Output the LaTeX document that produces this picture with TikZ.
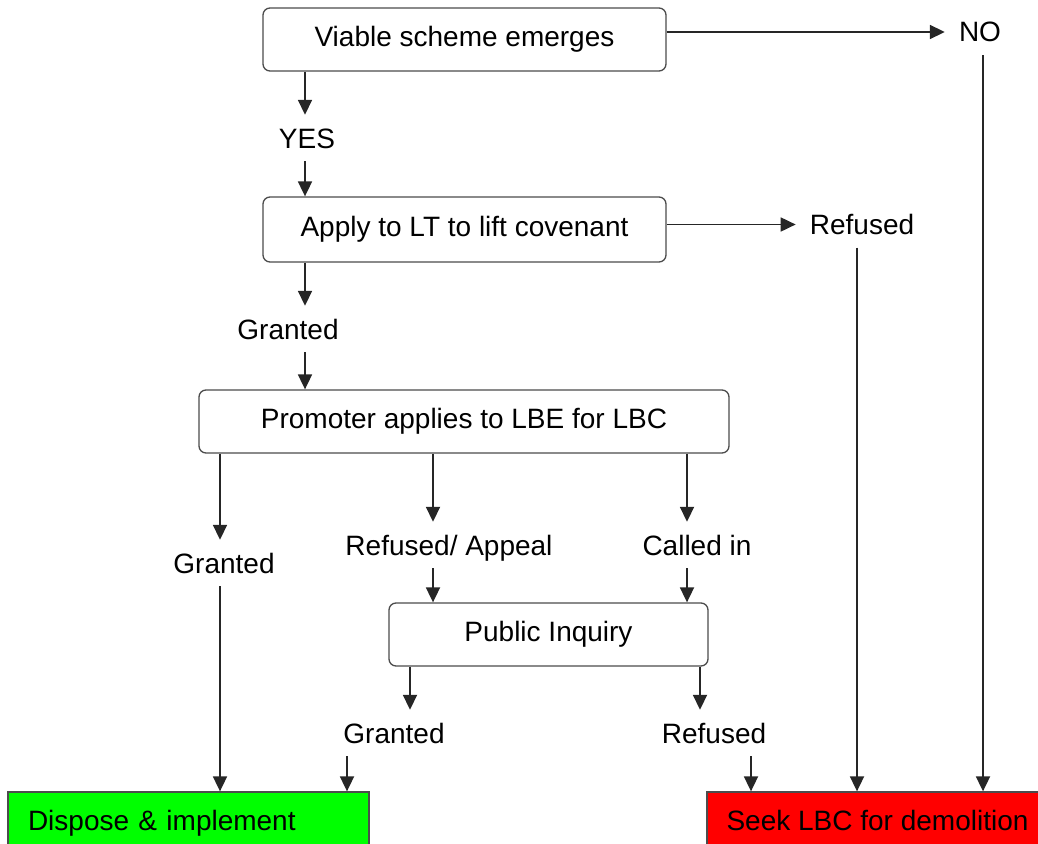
\documentclass[tikz,border=0pt]{standalone}
\usepackage{fontspec}
\setmainfont{Liberation Sans}
\usetikzlibrary{arrows.meta}
\definecolor{implgreen}{RGB}{0,255,0}
\definecolor{demred}{RGB}{255,0,0}
\tikzset{
  stage/.style   ={rectangle, rounded corners=7pt, draw=black!70, line width=1.3pt,
    minimum height=63pt, inner sep=0pt},
  decision/.style={inner xsep=14pt, inner ysep=13pt, text height=20pt, text depth=0pt},
  outcome/.style ={rectangle, draw=black!70, line width=1.3pt, minimum height=56pt,
    inner ysep=0pt, text height=20pt, text depth=0pt}}
\tikzset{
  to arr/.style={-{Triangle[length=15pt,width=14pt]}, line width=1.8pt, color=black!85},
}

\begin{document}
\begin{tikzpicture}[x=1pt, y=-1pt, font=\fontsize{28pt}{34pt}\selectfont]
\useasboundingbox (0,0) rectangle (1038,843);
\clip (0,0) rectangle (1038,843);
% stages
\node[stage, minimum width=403pt] (viable) at (464.5,39.5) {Viable scheme emerges};
\node[stage, minimum width=403pt, minimum height=65pt] (apply) at (464.5,229.5)
  {Apply to LT to lift covenant};
\node[stage, minimum width=530pt] (promoter) at (464,421.5) {Promoter applies to LBE for LBC};
\node[stage, minimum width=319pt] (inquiry) at (548.5,634.5) {Public Inquiry};
% outcomes
\node[outcome, fill=implgreen, text width=321pt, align=left, inner xsep=20pt]
  (dispose) at (188.5,820) {Dispose \& implement};
\node[outcome, fill=demred, minimum width=341pt] (seek) at (877.5,820) {Seek LBC for demolition};
% decisions
\node[decision] (no)       at (980,32)    {NO};
\node[decision] (yes)      at (307,138)   {YES};
\node[decision] (refused1) at (862,224.5) {Refused};
\node[decision] (granted1) at (288,329)   {Granted};
\node[decision] (granted2) at (224,563)   {Granted};
\node[decision] (appeal)   at (449,545)   {Refused/ Appeal};
\node[decision] (calledin) at (697,545)   {Called in};
\node[decision] (granted3) at (394,733)   {Granted};
\node[decision] (refused3) at (714,733)   {Refused};
% columns of the vertical connectors
\foreach \n/\x in {main/305, left/220, appeal/433, called/687, pileft/410,
                   piright/700, grant/347, refuse/751, lt/857, no/983}
  \coordinate (col-\n) at (\x,0);
\path[to arr]
  (viable.east |- no.west) edge (no.west)
  (apply.east |- refused1.west) edge (refused1.west)
  \foreach \a/\b/\c in {viable/yes/main, yes/apply/main, apply/granted1/main,
      granted1/promoter/main, promoter/granted2/left, granted2/dispose/left,
      promoter/appeal/appeal, appeal/inquiry/appeal, promoter/calledin/called,
      calledin/inquiry/called, inquiry/granted3/pileft, inquiry/refused3/piright,
      granted3/dispose/grant, refused3/seek/refuse, refused1/seek/lt, no/seek/no}{
    (\a.south -| col-\c) edge (\b.north -| col-\c)
  };
\end{tikzpicture}
\end{document}
